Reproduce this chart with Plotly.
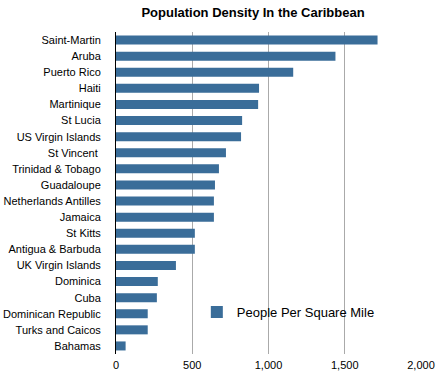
import plotly.graph_objects as go

countries = ["Saint-Martin", "Aruba", "Puerto Rico", "Haiti", "Martinique", "St Lucia",
             "US Virgin Islands", "St Vincent ", "Trinidad & Tobago", "Guadaloupe",
             "Netherlands Antilles", "Jamaica", "St Kitts", "Antigua & Barbuda",
             "UK Virgin Islands", "Dominica", "Cuba", "Dominican Republic",
             "Turks and Caicos", "Bahamas"]
density = [1715, 1439, 1162, 938, 932, 827, 820, 721, 675, 649,
           642, 642, 517, 517, 393, 274, 268, 208, 208, 63]
tick_vals = [0, 500, 1000, 1500, 2000]
tick_text = ["0", "500", "1,000", "1,500", "2,000"]

fig = go.Figure()
fig.add_trace(go.Bar(
    x=density, y=countries, orientation="h",
    name="People Per Square Mile",
    marker=dict(color="#3a6d99", line=dict(width=0)),
    width=0.56,
))

fig.update_layout(
    width=440, height=380,
    margin=dict(l=116, r=19, t=32, b=26, autoexpand=False),
    paper_bgcolor="white", plot_bgcolor="white",
    font=dict(family="Liberation Sans, Arial, sans-serif", size=12, color="black"),
    title=dict(text="<b>Population Density In the Caribbean</b>", x=0.575, xanchor="center",
               xref="container", y=0.966, yanchor="middle", font=dict(size=13),
               automargin=False),
    showlegend=True,
    legend=dict(x=0.265, y=0.13, xanchor="left", yanchor="middle",
                bgcolor="rgba(0,0,0,0)", font=dict(size=13)),
    bargap=0.44,
)
fig.update_xaxes(range=[0, 2000], tickvals=tick_vals, ticktext=tick_text,
                 showgrid=True, gridcolor="#aaaaaa", gridwidth=1, automargin=False,
                 zeroline=False, showline=False, ticks="", tickfont=dict(size=11),
                 ticklabelstandoff=3)
fig.update_yaxes(autorange="reversed", showline=True, linecolor="black", linewidth=1,
                 automargin=False,
                 ticks="", showgrid=False, ticklabelstandoff=12, tickfont=dict(size=11))

fig.write_html("out.html", config={"displayModeBar": False},
               post_script="document.body.style.margin='0';document.body.style.padding='0';")
